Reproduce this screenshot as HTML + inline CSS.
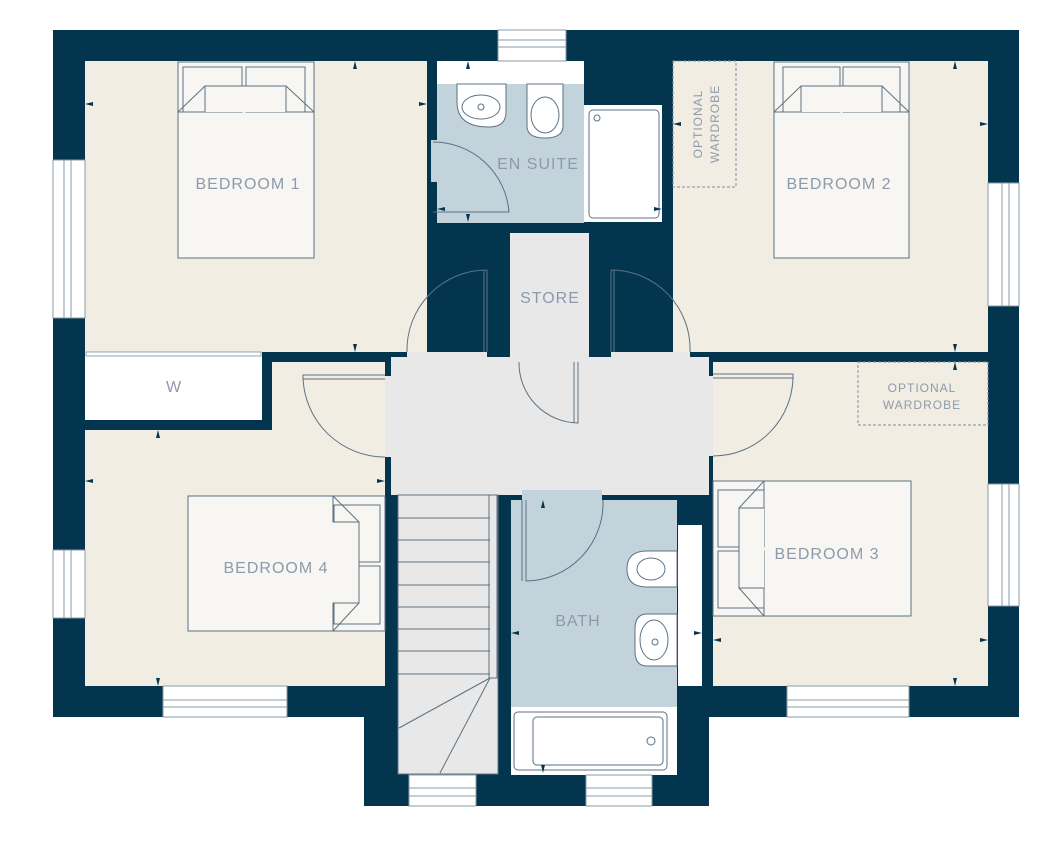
<!DOCTYPE html>
<html><head><style>
html,body{margin:0;padding:0;background:#fff;}
svg{display:block;}
text{font-family:"Liberation Sans",sans-serif;fill:#8e9aab;letter-spacing:1px;}
</style></head><body>
<svg width="1055" height="859" viewBox="0 0 1055 859" xmlns="http://www.w3.org/2000/svg">
<rect width="1055" height="859" fill="#fff"/>
<!-- building mass -->
<rect x="53" y="30" width="966" height="687" fill="#04354f"/>
<rect x="364" y="700" width="345" height="106" fill="#04354f"/>
<!-- Bedroom 1 -->
<rect x="85" y="61" width="342" height="291" fill="#f1ede2"/>
<!-- En suite -->
<rect x="437" y="61" width="147" height="162" fill="#c2d3db"/>
<rect x="437" y="61" width="147" height="23" fill="#fff"/>
<rect x="431" y="140" width="6" height="42" fill="#c2d3db"/>
<rect x="584" y="105" width="78" height="117" fill="#fff"/>
<rect x="589" y="110" width="70" height="108" rx="4" fill="#fff" stroke="#5b7284" stroke-width="1"/>
<circle cx="597" cy="118" r="3" fill="none" stroke="#5b7284"/>
<!-- basin & wc ensuite -->
<path d="M457 84 v18 q0 25 32 25 q17 0 17 -15 v-28 z" fill="#fff" stroke="#5b7284"/>
<ellipse cx="481" cy="107" rx="19" ry="12" fill="none" stroke="#5b7284"/>
<circle cx="481" cy="107" r="3" fill="none" stroke="#5b7284"/>
<path d="M527 84 v42 q0 12 18 12 q18 0 18 -12 v-42 z" fill="#fff" stroke="#5b7284"/>
<ellipse cx="545" cy="115" rx="14" ry="18" fill="none" stroke="#5b7284"/>
<!-- Bedroom 2 -->
<rect x="673" y="61" width="315" height="291" fill="#f1ede2"/>
<rect x="673" y="61" width="63" height="126" fill="none" stroke="#7c8fa0" stroke-dasharray="3,2"/>
<!-- Store -->
<rect x="510" y="233" width="79" height="125" fill="#e8e8e8"/>
<!-- Hall -->
<rect x="391" y="357" width="318" height="138" fill="#e8e8e8"/>
<rect x="398" y="490" width="100" height="284" fill="#e8e8e8"/>
<!-- bedroom1 door gap & bedroom2 gap -->
<rect x="407" y="352" width="80" height="10" fill="#e8e8e8"/>
<rect x="611" y="352" width="79" height="10" fill="#e8e8e8"/>
<!-- Bedroom 4 -->
<rect x="85" y="430" width="300" height="256" fill="#f1ede2"/>
<rect x="272" y="362" width="113" height="70" fill="#f1ede2"/>
<rect x="85" y="352" width="177" height="68" fill="#fff"/>
<rect x="86" y="352" width="175" height="4" fill="#fff" stroke="#7c8fa0" stroke-width="0.8"/>
<rect x="385" y="376" width="11" height="81" fill="#e8e8e8"/>
<!-- Bedroom 3 -->
<rect x="713" y="362" width="275" height="324" fill="#f1ede2"/>
<rect x="702" y="376" width="11" height="80" fill="#e8e8e8"/>
<rect x="858" y="362" width="130" height="63" fill="none" stroke="#7c8fa0" stroke-dasharray="3,2"/>
<!-- Bath -->
<rect x="511" y="500" width="166" height="275" fill="#c2d3db"/>
<rect x="522" y="490" width="80" height="12" fill="#c2d3db"/>
<rect x="511" y="707" width="166" height="68" fill="#fff"/>
<rect x="514" y="712" width="153" height="58" rx="4" fill="#fff" stroke="#5b7284"/>
<rect x="533" y="717" width="130" height="48" rx="4" fill="none" stroke="#5b7284"/>
<circle cx="651" cy="741" r="4" fill="none" stroke="#5b7284"/>
<rect x="678" y="525" width="24" height="161" fill="#fff"/>
<path d="M677 551 h-30 q-20 0 -20 18 q0 18 20 18 h30 z" fill="#fff" stroke="#5b7284"/>
<ellipse cx="651" cy="569" rx="14" ry="11" fill="none" stroke="#5b7284"/>
<path d="M677 614 h-30 q-12 0 -12 15 v22 q0 15 12 15 h30 z" fill="#fff" stroke="#5b7284"/>
<ellipse cx="654" cy="640" rx="14" ry="20" fill="none" stroke="#5b7284"/>
<circle cx="655" cy="642" r="3" fill="none" stroke="#5b7284"/>
<!-- stairs -->
<g stroke="#5b7284" stroke-width="1" fill="none">
<rect x="398" y="495" width="100" height="279"/>
<line x1="398" y1="518" x2="490" y2="518"/><line x1="398" y1="540" x2="490" y2="540"/>
<line x1="398" y1="562" x2="490" y2="562"/><line x1="398" y1="585" x2="490" y2="585"/>
<line x1="398" y1="607" x2="490" y2="607"/><line x1="398" y1="629" x2="490" y2="629"/>
<line x1="398" y1="651" x2="490" y2="651"/><line x1="398" y1="674" x2="490" y2="674"/>
<line x1="490" y1="678" x2="399" y2="728"/><line x1="490" y1="678" x2="440" y2="773"/>
<rect x="489" y="495" width="8" height="183"/>
</g>
<!-- windows -->
<g fill="#fff" stroke="#8a9aa8" stroke-width="1">
<rect x="53" y="160" width="32" height="158"/><line x1="64" y1="160" x2="64" y2="318"/><line x1="71" y1="160" x2="71" y2="318"/>
<rect x="53" y="550" width="32" height="68"/><line x1="64" y1="550" x2="64" y2="618"/><line x1="71" y1="550" x2="71" y2="618"/>
<rect x="988" y="183" width="31" height="123"/><line x1="1002" y1="183" x2="1002" y2="306"/><line x1="1009" y1="183" x2="1009" y2="306"/>
<rect x="988" y="484" width="31" height="122"/><line x1="1002" y1="484" x2="1002" y2="606"/><line x1="1009" y1="484" x2="1009" y2="606"/>
<rect x="498" y="30" width="68" height="31"/><line x1="498" y1="40" x2="566" y2="40"/><line x1="498" y1="47" x2="566" y2="47"/>
<rect x="163" y="686" width="124" height="31"/><line x1="163" y1="700" x2="287" y2="700"/><line x1="163" y1="707" x2="287" y2="707"/>
<rect x="787" y="686" width="122" height="31"/><line x1="787" y1="700" x2="909" y2="700"/><line x1="787" y1="707" x2="909" y2="707"/>
<rect x="409" y="775" width="67" height="31"/><line x1="409" y1="788" x2="476" y2="788"/><line x1="409" y1="796" x2="476" y2="796"/>
<rect x="586" y="775" width="66" height="31"/><line x1="586" y1="788" x2="652" y2="788"/><line x1="586" y1="796" x2="652" y2="796"/>
</g>
<!-- beds -->
<g fill="#f7f6f2" stroke="#5b7284" stroke-width="1">
<rect x="178" y="62" width="136" height="196"/>
<rect x="183" y="67" width="59" height="45"/><rect x="246" y="67" width="59" height="45"/>
<path d="M178 112 h27 l0 -26 h81 l0 26 l28 0" />
<path d="M205 86 l-27 26 M286 86 l28 26"/>
<rect x="774" y="62" width="135" height="196"/>
<rect x="783" y="67" width="57" height="45"/><rect x="843" y="67" width="57" height="45"/>
<path d="M774 112 h27 v-26 h81 v26 h27 M801 86 l-27 26 M882 86 l27 26"/>
<rect x="188" y="496" width="197" height="135"/>
<rect x="334" y="505" width="46" height="57"/><rect x="334" y="566" width="46" height="58"/>
<path d="M333 496 v26 h26 v81 h-26 v28 M333 496 l26 26 M359 603 l-26 28"/>
<rect x="713" y="481" width="198" height="135"/>
<rect x="718" y="490" width="46" height="57"/><rect x="718" y="551" width="46" height="57"/>
<path d="M764 481 v27 h-25 v80 h25 v28 M764 481 l-25 27 M739 588 l25 28"/>
</g>
<!-- doors -->
<g fill="none" stroke="#5b7284" stroke-width="1">
<path d="M433 142 A76 76 0 0 1 509 212 H433"/>
<path d="M487 270 V352 M484 270 V352 M487 270 A80 80 0 0 0 407 352"/>
<path d="M611 270 V352 M614 270 V352 M611 270 A79 79 0 0 1 690 352"/>
<path d="M519 362 A60 60 0 0 0 578 423 V362 M574 362 V423"/>
<path d="M385 375 H303 V379 H385 M303 377 A82 82 0 0 0 385 457"/>
<path d="M713 374 H793 V378 H713 M793 376 A80 80 0 0 1 713 456"/>
<path d="M522 500 V581 M526 500 V581 A78 78 0 0 0 603 500"/>
</g>
<!-- labels -->
<g font-size="16">
<text x="248" y="189" text-anchor="middle">BEDROOM 1</text>
<text x="839" y="189" text-anchor="middle">BEDROOM 2</text>
<text x="276" y="573" text-anchor="middle">BEDROOM 4</text>
<text x="827" y="559" text-anchor="middle">BEDROOM 3</text>
<text x="538" y="169" text-anchor="middle">EN SUITE</text>
<text x="550" y="303" text-anchor="middle">STORE</text>
<text x="578" y="626" text-anchor="middle">BATH</text>
<text x="174" y="392" text-anchor="middle">W</text>
</g>
<g font-size="12">
<text x="922" y="392" text-anchor="middle">OPTIONAL</text>
<text x="922" y="409" text-anchor="middle">WARDROBE</text>
<text transform="translate(702,124) rotate(-90)" text-anchor="middle">OPTIONAL</text>
<text transform="translate(719,124) rotate(-90)" text-anchor="middle">WARDROBE</text>
</g>
<!-- tick markers -->
<g fill="#04354f">
<path d="M355 61 l-2 8 h4 z M355 352 l-2 -8 h4 z M85 104 l8 -2 v4 z M427 104 l-8 -2 v4 z"/>
<path d="M955 61 l-2 8 h4 z M955 352 l-2 -8 h4 z M673 124 l8 -2 v4 z M988 124 l-8 -2 v4 z"/>
<path d="M158 430 l-2 8 h4 z M158 686 l-2 -8 h4 z M85 481 l8 -2 v4 z M385 481 l-8 -2 v4 z"/>
<path d="M955 362 l-2 8 h4 z M955 686 l-2 -8 h4 z M713 640 l8 -2 v4 z M988 640 l-8 -2 v4 z"/>
<path d="M468 61 l-2 8 h4 z M468 222 l-2 -8 h4 z M437 209 l8 -2 v4 z M662 209 l-8 -2 v4 z"/>
<path d="M543 500 l-2 8 h4 z M543 773 l-2 -8 h4 z M511 633 l8 -2 v4 z M702 633 l-8 -2 v4 z"/>
</g>
</svg>
</body></html>
